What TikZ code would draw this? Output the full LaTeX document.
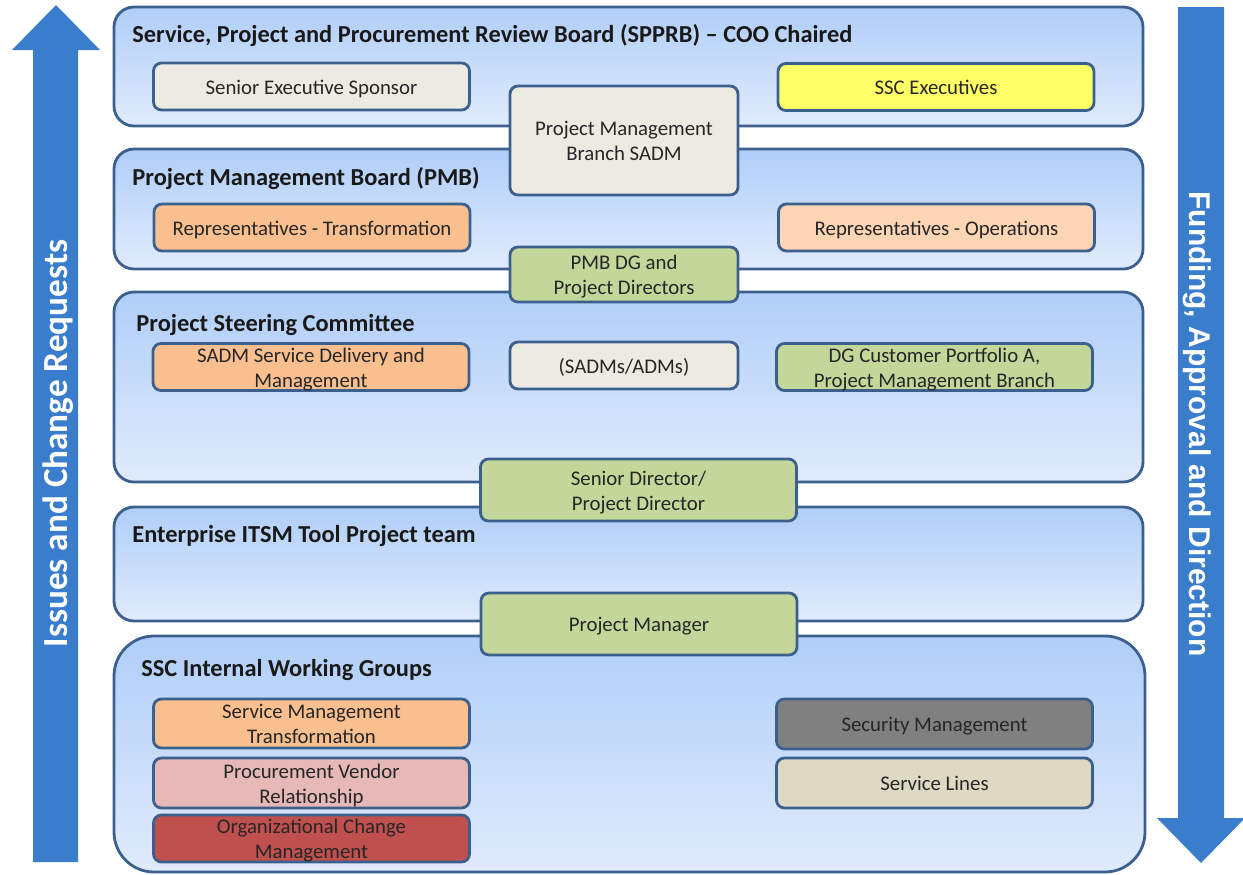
\documentclass[tikz,border=0pt]{standalone}
\usepackage{fontspec}
\setmainfont{Carlito}
\newfontfamily\arialbold{Liberation Sans Bold}
\usepackage{tikz}
\usetikzlibrary{positioning}
\definecolor{edgeblue}{RGB}{60,96,142}
\definecolor{flowblue}{RGB}{58,125,205}
\definecolor{panetop}{RGB}{176,206,248}
\definecolor{panebot}{RGB}{224,235,252}
\definecolor{boxgray}{RGB}{236,234,225}
\definecolor{boxyellow}{RGB}{255,255,102}
\definecolor{boxorange}{RGB}{250,191,143}
\definecolor{boxpeach}{RGB}{252,213,181}
\definecolor{boxgreen}{RGB}{196,215,155}
\definecolor{boxpink}{RGB}{230,184,183}
\definecolor{boxred}{RGB}{192,80,77}
\definecolor{boxdark}{RGB}{128,128,128}
\definecolor{boxtan}{RGB}{221,217,195}
\tikzset{
  panel/.style={draw=edgeblue, line width=1.4pt, rounded corners=10pt,
    top color=panetop, bottom color=panebot},
  member/.style={rectangle, draw=edgeblue, line width=1.4pt, rounded corners=4pt,
    align=center, minimum width=158pt, minimum height=23.5pt, inner sep=1pt,
    font=\fontsize{10.4}{12.5}\selectfont, text=black!85,
    text height=10pt, text depth=2.2pt},
  twoline/.style={text height=21.9pt, text depth=1.6pt, inner ysep=0pt},
  midmember/.style={member, minimum width=114pt},
  wide/.style={member, minimum width=158pt, minimum height=31pt},
  title/.style={anchor=west, inner sep=0pt, font=\fontsize{12.2}{14}\selectfont\bfseries, text=black!90},
  flowtext/.style={anchor=base, inner sep=0pt, text=white}
}

\begin{document}
\begin{tikzpicture}[x=0.5pt, y=-0.5pt]
\useasboundingbox (0,0) rectangle (1243,874);

% side arrows
\fill[flowblue] (33,862) -- (33,50) -- (12,50) -- (56,5) -- (100,50) -- (78,50) -- (78,862) -- cycle;
\fill[flowblue] (1178,7) -- (1178,818) -- (1157,818) -- (1201,863) -- (1245,818) -- (1224,818) -- (1224,7) -- cycle;
\node[flowtext, rotate=90, font=\fontsize{17.6}{20}\selectfont\bfseries] (issues) at (67,443.5) {Issues and Change Requests};
\node[flowtext, rotate=-90, font=\fontsize{15}{18}\arialbold] (funding) at (1189,424) {Funding, Approval and Direction};

% the five bands
\draw[panel] (114,7) rectangle (1143,126);
\draw[panel] (114,149) rectangle (1143,269);
\draw[panel] (114,292) rectangle (1143,482);
\draw[panel] (114,507) rectangle (1143,621);
\draw[panel, rounded corners=20pt] (114,636) rectangle (1145,872);

\node[title] (spprb) at (132,35) {Service, Project and Procurement Review Board (SPPRB) -- COO Chaired};
\node[title] (pmb) at (132,179) {Project Management Board (PMB)};
\node[title] (psc) at (136,325) {Project Steering Committee};
\node[title] (itsm) at (132,536) {Enterprise ITSM Tool Project team};
\node[title] (sscwg) at (141,670) {SSC Internal Working Groups};

% SPPRB
\node[member, fill=boxgray] (sponsor) at (311.5,86.5) {Senior Executive Sponsor};
\node[member, fill=boxyellow] (sscexec) at (936,87) {SSC Executives};
\node[midmember, twoline, fill=boxgray, minimum height=54.5pt] (pmbranch) at (624,140.5) {Project Management\\Branch SADM};

% PMB
\node[member, fill=boxorange] (reptrans) at (312,227.5) {Representatives - Transformation};
\node[member, fill=boxpeach] (repops) at (936.5,227.5) {Representatives - Operations};
\node[midmember, twoline, fill=boxgreen, minimum height=27.5pt] (pmbdg) at (624,274.5) {PMB DG and\\Project Directors};

% steering committee
\node[member, twoline, fill=boxorange] (sadmsd) at (311,367) {SADM Service Delivery and\\Management};
\node[midmember, fill=boxgray] (sadms) at (624,365.5) {(SADMs/ADMs)};
\node[member, twoline, fill=boxgreen] (dgcust) at (934.5,367) {DG Customer Portfolio A,\\Project Management Branch};
\node[wide, twoline, fill=boxgreen] (srdir) at (638.5,490) {Senior Director/\\Project Director};

% project team
\node[wide, fill=boxgreen] (pm) at (639,624) {Project Manager};

% working groups
\node[member, twoline, fill=boxorange, minimum height=24.5pt] (smt) at (311.5,723.5) {Service Management\\Transformation};
\node[member, twoline, fill=boxpink, minimum height=25pt, below=3.6pt of smt] (pvr) {Procurement Vendor\\Relationship};
\node[member, twoline, fill=boxred, minimum height=23.5pt, below=2.1pt of pvr] (ocm) {Organizational Change\\Management};
\node[member, fill=boxdark, minimum height=25pt] (secmgmt) at (934.5,724) {Security Management};
\node[member, fill=boxtan, minimum height=25pt, below=3.1pt of secmgmt] (svclines) {Service Lines};
\end{tikzpicture}
\end{document}
